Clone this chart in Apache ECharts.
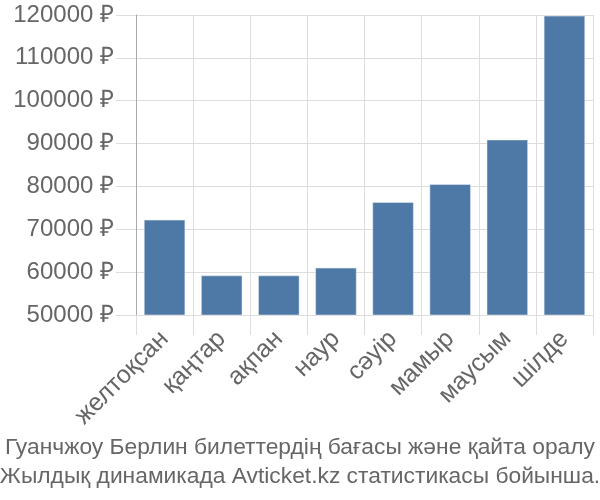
<!DOCTYPE html>
<html>
<head>
<meta charset="utf-8">
<script src="https://cdn.jsdelivr.net/npm/echarts@6/dist/echarts.min.js"></script>
<style>html,body{margin:0;padding:0;background:#fff}#c{width:600px;height:500px}</style>
</head>
<body>
<div id="c"></div>
<script>
const categories = ['желтоқсан', 'қаңтар', 'ақпан', 'наур', 'сәуір', 'мамыр', 'маусым', 'шілде'];
const prices = [72200, 59200, 59200, 61000, 76300, 80500, 90900, 119800];
const titleLines = ['Гуанчжоу Берлин билеттердің бағасы және қайта оралу', 'Жылдық динамикада Avticket.kz статистикасы бойынша.'];
const currency = ' ₽';

const chart = echarts.init(document.getElementById('c'), null, {renderer: 'canvas'});
const font = 'Liberation Sans, Arial, sans-serif';
chart.setOption({
  animation: false,
  title: {
    text: titleLines.join('\n'),
    left: 'center',
    bottom: 4,
    textStyle: {fontFamily: font, fontSize: 22.8, fontWeight: 'normal', color: '#666', lineHeight: 29}
  },
  grid: {left: 136, right: 7, top: 15, bottom: 185, containLabel: false},
  xAxis: {
    type: 'category',
    data: categories,
    boundaryGap: true,
    axisLine: {show: true, lineStyle: {color: '#ddd'}},
    axisTick: {show: true, length: 20, lineStyle: {color: '#ddd'}},
    splitLine: {show: true, lineStyle: {color: '#ddd'}},
    axisLabel: {rotate: 45, fontFamily: font, fontSize: 25, color: '#666', margin: 20}
  },
  yAxis: {
    type: 'value',
    min: 50000,
    max: 120000,
    interval: 10000,
    axisLine: {show: true, lineStyle: {color: '#aaa'}},
    axisTick: {show: true, length: 20, lineStyle: {color: '#ddd'}},
    splitLine: {show: true, lineStyle: {color: '#ddd'}},
    axisLabel: {fontFamily: font, fontSize: 24, color: '#666', margin: 22, formatter: v => v + currency}
  },
  series: [{
    type: 'bar',
    data: prices,
    barCategoryGap: '28%',
    itemStyle: {color: '#4e79a7', borderColor: '#e8eef5', borderWidth: 0.5}
  }]
});
</script>
</body>
</html>
